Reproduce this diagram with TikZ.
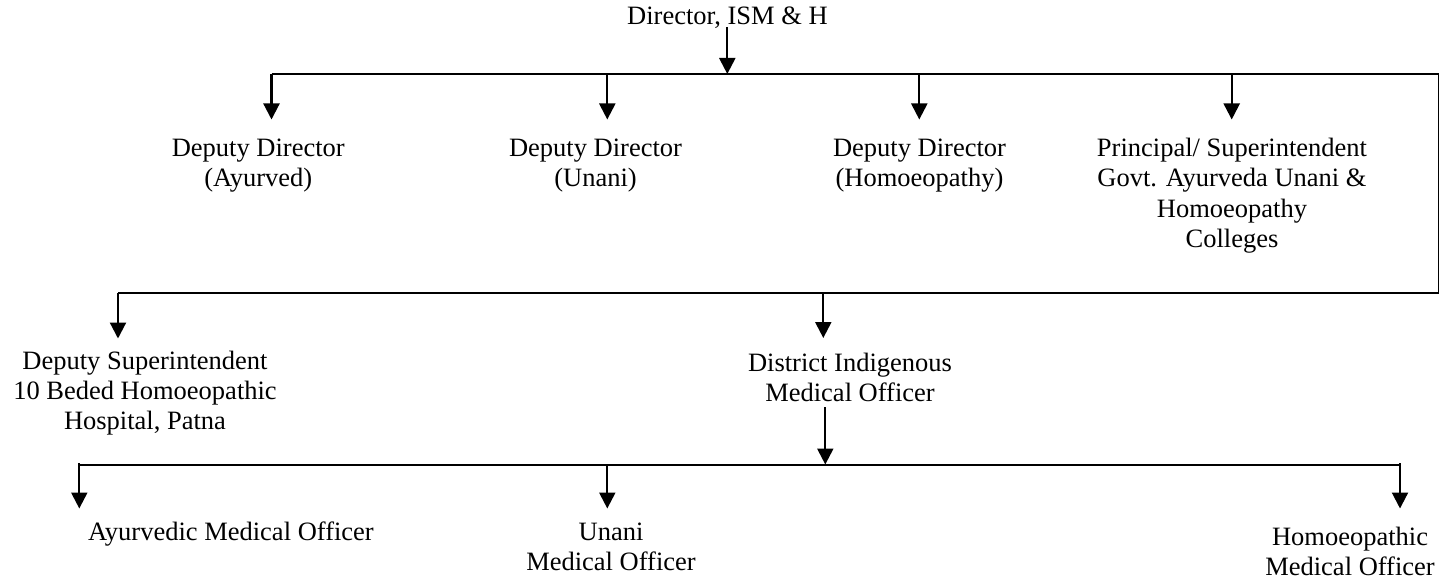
\documentclass[tikz,border=0pt]{standalone}
\usepackage{fontspec}
\setmainfont{Liberation Serif}
\usetikzlibrary{arrows.meta}
\begin{document}
\begin{tikzpicture}[x=1pt,y=-1pt,
  lbl/.style={inner sep=0pt,align=center,anchor=base,font=\fontsize{26.5}{30}\selectfont},
  bus/.style={line width=1.6pt,line join=miter},
  arr/.style={line width=2.2pt,-{Triangle[width=16pt,length=16pt]}}]
\useasboundingbox (0,0) rectangle (1442,580);
% text nodes (anchor base = baseline of last line)
\node[lbl] (dir) at (727.5,25) {Director, ISM \& H};
\node[lbl] (dd1) at (258.3,186.7) {Deputy Director\\(Ayurved)};
\node[lbl] (dd2) at (595.5,186.7) {Deputy Director\\(Unani)};
\node[lbl] (dd3) at (919.5,186.7) {Deputy Director\\(Homoeopathy)};
\node[lbl] (pr) at (1232,247) {Principal/ Superintendent\\Govt. Ayurveda Unani \&\\Homoeopathy\\Colleges};
\node[lbl] (ds) at (145,429.3) {Deputy Superintendent\\10 Beded Homoeopathic\\Hospital, Patna};
\node[lbl] (dimo) at (850,401.7) {District Indigenous\\Medical Officer};
\node[lbl] (amo) at (231,540.7) {Ayurvedic Medical Officer};
\node[lbl] (umo) at (611,570.7) {Unani\\Medical Officer};
\node[lbl] (hmo) at (1350,575.5) {Homoeopathic\\Medical Officer};
% coordinates
\coordinate (d0) at (727.3,27);
\coordinate (b0) at (727.3,74);
\coordinate (t1) at (271.5,74);
\coordinate (t2) at (607.3,74);
\coordinate (t3) at (919.3,74);
\coordinate (t4) at (1231.7,74);
\coordinate (tr) at (1438.5,74);
\coordinate (mr) at (1438.5,293);
\coordinate (m1) at (118,293);
\coordinate (m2) at (823.3,293);
\coordinate (e1) at (271.5,119.5);
\coordinate (e2) at (607.3,119.5);
\coordinate (e3) at (919.3,119.5);
\coordinate (e4) at (1231.7,119.5);
\coordinate (f1) at (118,338.5);
\coordinate (f2) at (823.3,338);
\coordinate (g0) at (825.3,407);
\coordinate (h0) at (825.3,464.5);
\coordinate (l1) at (79.3,463);
\coordinate (l2) at (607.3,465);
\coordinate (l3) at (1400,463);
\coordinate (k1) at (79.3,508.5);
\coordinate (k2) at (607.3,508.5);
\coordinate (k3) at (1400,508.5);
% buses
\draw[bus] (t1) -- (tr) -- (mr) -- (m1);
\draw[bus] (79.3,465) -- (1400,465);
% arrows
\draw[arr] (d0) -- (b0);
\draw[arr] (t1) -- (e1);
\draw[arr] (t2) -- (e2);
\draw[arr] (t3) -- (e3);
\draw[arr] (t4) -- (e4);
\draw[arr] (m1) -- (f1);
\draw[arr] (m2) -- (f2);
\draw[arr] (g0) -- (h0);
\draw[arr] (l1) -- (k1);
\draw[arr] (l2) -- (k2);
\draw[arr] (l3) -- (k3);
\end{tikzpicture}
\end{document}
